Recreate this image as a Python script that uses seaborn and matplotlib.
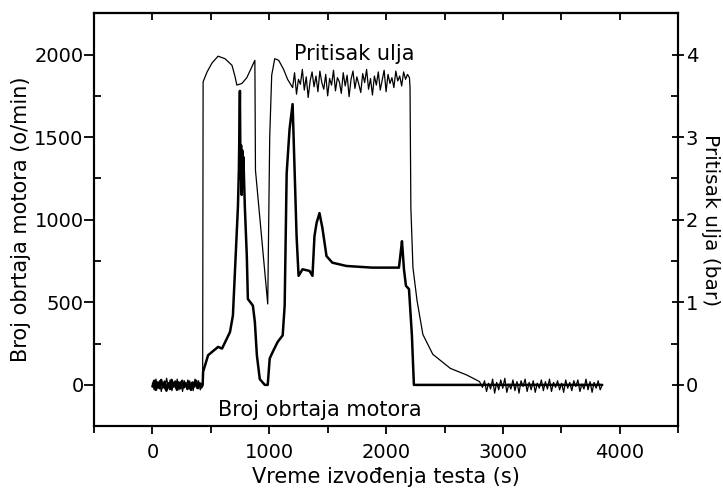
import numpy as np
import pandas as pd
import matplotlib
matplotlib.use("Agg")
import matplotlib.pyplot as plt
import seaborn as sns
from matplotlib.ticker import MultipleLocator

# ---------------- data ----------------
# Engine speed (o/min)
rpm_time = [0, 15, 30, 45, 60, 75, 90, 105, 120, 135, 150, 165, 180, 195, 210, 225,
            240, 255, 270, 285, 300, 315, 330, 345, 360, 375, 390, 405, 420, 430,
            434, 477, 562, 596, 664, 689, 706, 732, 740, 749, 754, 759, 764, 769, 774,
            779, 784, 791, 808, 817, 860, 877, 894, 919, 962, 987, 1004, 1030, 1072,
            1115, 1132, 1149, 1174, 1200, 1217, 1234, 1251, 1285, 1345, 1370, 1387,
            1405, 1430, 1455, 1490, 1540, 1660, 1880, 2110, 2128, 2136, 2153, 2170,
            2196, 2221, 2238, 3850]
rpm_value = [-10, 25, -30, 15, -20, 30, -15, 20, -35, 10, -25, 30, -10, 20, -30, 15,
             -20, 25, -15, 10, -25, 20, -30, 15, -10, 25, -20, 10, -15, 0,
             80, 180, 230, 220, 320, 420, 680, 1080, 1300, 1780, 1250, 1450, 1150, 1420, 1200,
             1380, 1250, 1080, 780, 520, 480, 380, 180, 35, 0, 0, 160, 200, 260,
             300, 480, 1280, 1550, 1700, 1300, 900, 660, 700, 690, 660, 900,
             980, 1040, 950, 780, 740, 720, 710, 710, 820, 870, 700, 600,
             580, 300, 0, 0]

# Oil pressure (bar)
p_start_noise = [0.02, -0.06, 0.07, -0.04, 0.05, -0.08, 0.03, -0.05, 0.08, -0.03,
                 0.06, -0.07, 0.02, -0.04, 0.07, -0.06, 0.04, -0.08, 0.05, -0.02,
                 0.06, -0.05, 0.03, -0.07, 0.07, -0.04, 0.05, -0.06, 0.02]
p_main_time = [430, 434, 468, 511, 562, 621, 681, 706, 723, 766, 808, 851, 877, 882,
               987, 1004, 1021, 1047, 1081, 1123, 1157, 1191]
p_main_value = [0.0, 3.67, 3.79, 3.90, 3.98, 3.95, 3.87, 3.74, 3.63, 3.65, 3.72, 3.85,
                3.93, 2.60, 0.98, 3.00, 3.75, 3.95, 3.93, 3.82, 3.70, 3.62]
p_plateau = [3.60, 3.78, 3.52, 3.70, 3.64, 3.82, 3.57, 3.73, 3.48, 3.68,
             3.79, 3.61, 3.74, 3.55, 3.80, 3.66, 3.58, 3.76, 3.50, 3.71,
             3.63, 3.81, 3.56, 3.72, 3.67, 3.53, 3.78, 3.62, 3.75, 3.49,
             3.70, 3.80, 3.59, 3.73, 3.64, 3.54, 3.77, 3.66, 3.82, 3.58,
             3.71, 3.51, 3.74, 3.63, 3.79, 3.57, 3.69, 3.81, 3.55, 3.76,
             3.65, 3.72, 3.60, 3.80, 3.68, 3.74, 3.62, 3.79, 3.70, 3.76, 3.72]
p_decay_time = [2205, 2212, 2230, 2265, 2315, 2400, 2550, 2690, 2800]
p_decay_value = [3.60, 2.15, 1.42, 1.02, 0.61, 0.37, 0.20, 0.12, 0.04]
p_tail_noise = [-0.03, 0.05, -0.08, 0.02, -0.05, 0.07, -0.10, 0.03, -0.06, 0.06,
                -0.04, 0.08, -0.09, 0.01, -0.05, 0.06, -0.07, 0.04, -0.10, 0.05,
                -0.02, 0.07, -0.08, 0.03, -0.06, 0.05, -0.09, 0.02, -0.04, 0.06,
                -0.07, 0.04, -0.05, 0.07, -0.08, 0.03, -0.03, 0.05, -0.06, 0.02,
                -0.09, 0.06, -0.04, 0.03, -0.07, 0.05, -0.02, 0.06, -0.08, 0.01,
                -0.05, 0.07, -0.06, 0.04, -0.09, 0.03, -0.04, 0.05, -0.06, 0.00]

p_start_time = np.linspace(0, 425, len(p_start_noise))
p_plateau_time = np.linspace(1200, 2200, len(p_plateau))
p_tail_time = np.linspace(2825, 3850, len(p_tail_noise))

p_time = np.concatenate([p_start_time, p_main_time, p_plateau_time, p_decay_time, p_tail_time])
p_value = np.concatenate([p_start_noise, p_main_value, p_plateau, p_decay_value, p_tail_noise])

df_rpm = pd.DataFrame({"t": rpm_time, "v": rpm_value})
df_p = pd.DataFrame({"t": p_time, "v": p_value})

# ---------------- plot ----------------
sns.set_style("ticks")
plt.rcParams["font.family"] = ["DejaVu Sans"]
for k in ("text.color", "axes.labelcolor", "xtick.color", "ytick.color", "axes.edgecolor"):
    plt.rcParams[k] = "black"

fig = plt.figure(figsize=(7.23, 4.91), dpi=100)
ax = fig.add_axes([0.130, 0.132, 0.808, 0.841])
ax2 = ax.twinx()

sns.lineplot(data=df_rpm, x="t", y="v", ax=ax, color="black", linewidth=1.8,
             estimator=None, sort=False)
sns.lineplot(data=df_p, x="t", y="v", ax=ax2, color="black", linewidth=0.9,
             estimator=None, sort=False)

ax.set_xlim(-500, 4500)
ax.set_ylim(-250, 2250)
ax2.set_ylim(-0.5, 4.5)

ax.set_xticks([0, 1000, 2000, 3000, 4000])
ax.xaxis.set_minor_locator(MultipleLocator(500))
ax.set_yticks([0, 500, 1000, 1500, 2000])
ax.yaxis.set_minor_locator(MultipleLocator(250))
ax2.set_yticks([0, 1, 2, 3, 4])
ax2.yaxis.set_minor_locator(MultipleLocator(0.5))

ax.tick_params(axis="x", which="major", direction="out", length=6, width=1.3,
               labelsize=14, pad=6, top=False)
ax.tick_params(axis="x", which="minor", direction="out", length=5, width=1.3, top=False)
ax.tick_params(axis="y", which="major", direction="out", length=7, width=1.3,
               labelsize=14, pad=0.5)
ax.tick_params(axis="y", which="minor", direction="in", length=5, width=1.3)
ax2.tick_params(axis="y", which="major", direction="inout", length=9, width=1.3,
                labelsize=14, pad=1)
ax2.tick_params(axis="y", which="minor", direction="in", length=5, width=1.3)

top = ax.secondary_xaxis("top")
top.set_xticks([0, 1000, 2000, 3000, 4000])
top.xaxis.set_minor_locator(MultipleLocator(500))
top.tick_params(which="both", direction="in", length=5, width=1.3, labeltop=False)

for a in (ax, ax2):
    for s in a.spines.values():
        s.set_visible(True)
        s.set_linewidth(1.5)
        s.set_color("black")
top.spines["top"].set_linewidth(1.5)

ax.set_xlabel("Vreme izvođenja testa (s)", fontsize=15, labelpad=4)
ax.set_ylabel("Broj obrtaja motora (o/min)", fontsize=15, labelpad=2)
ax2.set_ylabel("Pritisak ulja (bar)", fontsize=14.5, rotation=270, labelpad=16)

ax.text(1727, 2005, "Pritisak ulja", ha="center", va="center", fontsize=15)
ax.text(1430, -150, "Broj obrtaja motora", ha="center", va="center", fontsize=15)

fig.savefig("out.png", dpi=100)
